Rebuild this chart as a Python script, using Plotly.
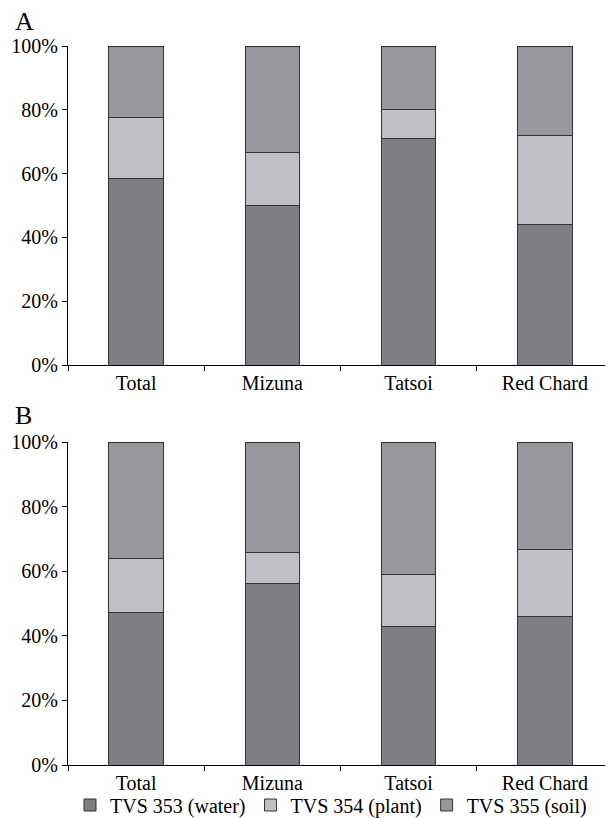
import plotly.graph_objects as go

categories = ["Total", "Mizuna", "Tatsoi", "Red Chard"]
series_names = ["TVS 353 (water)", "TVS 354 (plant)", "TVS 355 (soil)"]

# Panel A (percent)
a_water = [58.6, 50.1, 70.9, 44.1]
a_plant = [19.0, 16.6, 9.1, 28.0]
a_soil = [22.4, 33.3, 20.0, 27.9]

# Panel B (percent)
b_water = [47.2, 56.1, 42.8, 45.9]
b_plant = [16.7, 9.6, 16.2, 20.8]
b_soil = [36.1, 34.3, 41.0, 33.3]

y_ticks = [0, 20, 40, 60, 80, 100]
y_tick_labels = ["0%", "20%", "40%", "60%", "80%", "100%"]
colors = ["#7e7f83", "#bfc0c4", "#97989c"]

FONT = "Liberation Serif"
FS = 20

fig = go.Figure()

for panel, (vals, xa, ya) in enumerate([
    ((a_water, a_plant, a_soil), "x", "y"),
    ((b_water, b_plant, b_soil), "x2", "y2"),
]):
    for name, v, c in zip(series_names, vals, colors):
        fig.add_trace(go.Bar(
            x=categories, y=v, name=name, xaxis=xa, yaxis=ya,
            marker=dict(color=c, line=dict(color="#333333", width=1)),
            width=0.4, legendgroup=name, showlegend=(panel == 0),
        ))

# page body adds an 8px offset; figure is sized to fill the rest of the window
W, H = 605, 810
OFF = 8


def ydom(top, bottom):
    return [1 - (bottom - OFF) / H, 1 - (top - OFF) / H]


xdom = [(68 - OFF) / W, 1.0]
axis_common = dict(showline=True, linecolor="black", linewidth=1,
                   ticks="outside", ticklen=5, tickcolor="black",
                   showgrid=False, zeroline=False, automargin=False,
                   tickfont=dict(family=FONT, size=FS, color="black"))

fig.update_layout(
    width=W, height=H,
    margin=dict(l=0, r=0, t=0, b=0, autoexpand=False),
    paper_bgcolor="white", plot_bgcolor="white",
    barmode="stack",
    font=dict(family=FONT, size=FS, color="black"),
    xaxis=dict(domain=xdom, anchor="y", type="category", tickson="boundaries",
               range=[-0.5, 3.5], **axis_common),
    yaxis=dict(domain=ydom(46, 365), anchor="x", range=[0, 100],
               tickmode="array", tickvals=y_ticks, ticktext=y_tick_labels, **axis_common),
    xaxis2=dict(domain=xdom, anchor="y2", type="category", tickson="boundaries",
                range=[-0.5, 3.5], **axis_common),
    yaxis2=dict(domain=ydom(442, 765), anchor="x2", range=[0, 100],
                tickmode="array", tickvals=y_ticks, ticktext=y_tick_labels, **axis_common),
    legend=dict(orientation="h", x=62 / W, xanchor="left", y=(818 - 805) / H, yanchor="middle",
                font=dict(family=FONT, size=FS, color="black"),
                itemwidth=30, traceorder="normal", bgcolor="rgba(0,0,0,0)"),
    annotations=[
        dict(text="A", x=(13 - OFF) / W, y=1 - (22 - OFF) / H, xref="paper", yref="paper",
             xanchor="left", yanchor="middle", showarrow=False,
             font=dict(family=FONT, size=26, color="black")),
        dict(text="B", x=(13 - OFF) / W, y=1 - (416 - OFF) / H, xref="paper", yref="paper",
             xanchor="left", yanchor="middle", showarrow=False,
             font=dict(family=FONT, size=26, color="black")),
    ],
)

fig.write_html("out.html")
